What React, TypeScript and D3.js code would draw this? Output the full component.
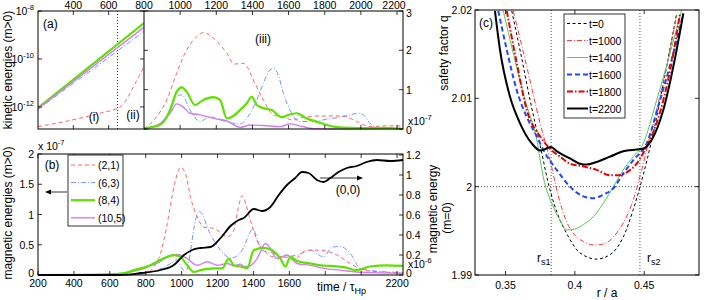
import React from 'react';
import * as d3 from 'd3';

type Pt = [number, number];

// (a) kinetic energies of the m>0 modes, log axis, t = 200..800
const kinLog21: Pt[] = [[200, 1.5e-13], [438, 3.4e-13], [551, 5.5e-13], [664, 1.0e-12], [700, 2.0e-12], [721, 3.7e-12], [760, 1.3e-11], [800, 4.8e-11]];
const kinLog63: Pt[] = [[200, 7.9e-13], [800, 1.4e-9]];
const kinLog84: Pt[] = [[200, 9.1e-13], [800, 3.1e-9]];
const kinLog105: Pt[] = [[200, 8.5e-13], [800, 2.1e-9]];

// (a)(iii) kinetic energies, linear axis, units of 1e-7
const kin21: Pt[] = [[800, 0], [870, 0.31], [926, 0.74], [981, 1.42], [1036, 2.01], [1092, 2.35], [1128, 2.45], [1184, 2.31], [1258, 1.93], [1300, 1.65], [1350, 1.67], [1414, 1.16], [1460, 0.74], [1516, 0.36], [1571, 0.3], [1626, 0.23], [1682, 0.3], [1756, 0.33], [1829, 0.33], [1903, 0.33], [1977, 0.19], [2051, 0.06], [2143, 0.08], [2233, 0.08]];
const kin63: Pt[] = [[800, 0], [889, 0.14], [944, 0.48], [981, 0.82], [1009, 0.87], [1055, 0.48], [1110, 0.19], [1165, 0.31], [1221, 0.23], [1290, 0.15], [1331, 0.13], [1387, 0.4], [1424, 0.74], [1460, 1.16], [1497, 1.5], [1516, 1.54], [1543, 1.37], [1571, 0.91], [1608, 0.48], [1663, 0.19], [1737, 0.19], [1811, 0.25], [1885, 0.3], [1940, 0.36], [1986, 0.4], [2014, 0.36], [2051, 0.14], [2088, 0.04], [2233, 0.02]];
const kin84: Pt[] = [[800, 0.02], [889, 0.1], [944, 0.48], [981, 0.95], [1009, 1.06], [1036, 0.95], [1082, 0.61], [1128, 0.74], [1184, 0.81], [1221, 0.74], [1258, 0.27], [1294, 0.33], [1331, 0.48], [1368, 0.65], [1396, 0.82], [1424, 0.61], [1460, 0.53], [1507, 0.48], [1562, 0.3], [1599, 0.36], [1645, 0.4], [1700, 0.27], [1774, 0.16], [1848, 0.06], [1940, 0.03], [2051, 0.02], [2125, 0.03], [2233, 0]];
const kin105: Pt[] = [[800, 0], [889, 0.14], [944, 0.4], [981, 0.64], [1009, 0.59], [1055, 0.4], [1110, 0.36], [1184, 0.27], [1258, 0.21], [1300, 0.1], [1331, 0.04], [1387, 0.1], [1460, 0.09], [1553, 0.06], [1608, 0.13], [1663, 0.08], [1737, 0.01], [1829, 0], [2233, 0.01]];

// (b) magnetic energies, m>0 in 1e-7, m=0 in 1e-6
const mag21: Pt[] = [[200, 0], [600, 0.005], [700, 0.01], [760, 0.02], [809, 0.04], [850, 0.15], [883, 0.36], [920, 0.85], [957, 1.45], [994, 1.78], [1022, 1.67], [1050, 1.28], [1087, 0.96], [1124, 0.79], [1180, 0.77], [1225, 0.68], [1254, 0.63], [1290, 0.74], [1315, 1.1], [1337, 1.31], [1360, 1.15], [1383, 0.9], [1420, 0.57], [1457, 0.41], [1513, 0.3], [1569, 0.3], [1624, 0.25], [1698, 0.41], [1772, 0.41], [1865, 0.33], [1939, 0.19], [2013, 0.08], [2106, 0.05], [2233, 0.03]];
const mag63: Pt[] = [[200, 0], [700, 0.005], [800, 0.03], [865, 0.08], [939, 0.19], [975, 0.25], [1000, 0.12], [1022, 0.05], [1045, 0.3], [1070, 0.8], [1096, 1.05], [1120, 0.98], [1143, 0.79], [1180, 0.57], [1217, 0.41], [1272, 0.28], [1300, 0.3], [1346, 0.46], [1380, 0.7], [1398, 0.77], [1420, 0.6], [1448, 0.41], [1513, 0.36], [1569, 0.3], [1643, 0.33], [1717, 0.41], [1791, 0.3], [1837, 0.46], [1883, 0.47], [1939, 0.36], [1994, 0.11], [2068, 0.07], [2233, 0.04]];
const mag84: Pt[] = [[200, 0], [500, 0.003], [600, 0.01], [680, 0.03], [735, 0.08], [809, 0.14], [883, 0.25], [957, 0.33], [994, 0.3], [1031, 0.16], [1068, 0.05], [1106, 0.08], [1180, 0.11], [1226, 0.11], [1263, 0.27], [1291, 0.16], [1328, 0.14], [1365, 0.11], [1402, 0.41], [1457, 0.45], [1504, 0.41], [1550, 0.27], [1578, 0.14], [1606, 0.3], [1643, 0.23], [1717, 0.19], [1772, 0.16], [1828, 0.15], [1902, 0.13], [1976, 0.08], [2050, 0.14], [2143, 0.16], [2233, 0.15]];
const mag105: Pt[] = [[200, 0], [600, 0.01], [700, 0.04], [800, 0.12], [880, 0.22], [920, 0.3], [976, 0.34], [1031, 0.27], [1087, 0.16], [1143, 0.22], [1198, 0.16], [1254, 0.19], [1291, 0.15], [1328, 0.18], [1346, 0.14], [1380, 0.15], [1420, 0.27], [1467, 0.52], [1494, 0.44], [1531, 0.27], [1587, 0.33], [1643, 0.19], [1717, 0.16], [1791, 0.11], [1883, 0.08], [1976, 0.05], [2068, 0.04], [2233, 0.03]];
const mag00: Pt[] = [[200, 0], [650, 0], [700, 0.003], [772, 0.02], [883, 0.05], [957, 0.1], [1013, 0.2], [1059, 0.25], [1106, 0.27], [1161, 0.28], [1217, 0.37], [1272, 0.49], [1318, 0.55], [1346, 0.57], [1402, 0.66], [1448, 0.64], [1494, 0.68], [1541, 0.8], [1587, 0.9], [1633, 0.97], [1670, 1.03], [1707, 1.02], [1754, 0.95], [1791, 0.93], [1828, 0.97], [1874, 1.03], [1920, 1.07], [1976, 1.09], [2031, 1.13], [2087, 1.15], [2161, 1.14], [2233, 1.15]];

// (c) safety factor profiles q(r/a)
const q0: Pt[] = [[0.3545, 2.0199], [0.3612, 2.0149], [0.3677, 2.0098], [0.3749, 2.0047], [0.3821, 1.9996], [0.3878, 1.9968], [0.3941, 1.9947], [0.4037, 1.9925], [0.4157, 1.9918], [0.4253, 1.9923], [0.4349, 1.9943], [0.4421, 1.9974], [0.447, 2.0], [0.452, 2.003], [0.4578, 2.007], [0.4638, 2.0117], [0.4734, 2.0196]];
const q1000: Pt[] = [[0.3556, 2.0199], [0.3653, 2.0136], [0.3749, 2.0072], [0.3821, 2.003], [0.3878, 1.9991], [0.3936, 1.9962], [0.4001, 1.9945], [0.4061, 1.9938], [0.4133, 1.9934], [0.4205, 1.9935], [0.4277, 1.9943], [0.4349, 1.9959], [0.4421, 1.9985], [0.4482, 2.0019], [0.4535, 2.0053], [0.4592, 2.0089], [0.4662, 2.0136], [0.4734, 2.0194]];
const q1400: Pt[] = [[0.3484, 2.0199], [0.3556, 2.0151], [0.3641, 2.0098], [0.3725, 2.0053], [0.3772, 2.0011], [0.3845, 1.9977], [0.39, 1.996], [0.3943, 1.9951], [0.4001, 1.9952], [0.4061, 1.9957], [0.4133, 1.9966], [0.4205, 1.9981], [0.4277, 2.0], [0.4349, 2.0019], [0.4421, 2.0034], [0.4493, 2.0049], [0.459, 2.0098], [0.4686, 2.0151], [0.477, 2.02]];
const q1600: Pt[] = [[0.3448, 2.0199], [0.3509, 2.0155], [0.3581, 2.0109], [0.3653, 2.0079], [0.3725, 2.0057], [0.3785, 2.0038], [0.3869, 2.0019], [0.3965, 2.0], [0.4061, 1.9989], [0.4133, 1.9987], [0.4205, 1.9991], [0.4277, 1.9998], [0.4349, 2.0015], [0.4421, 2.003], [0.4518, 2.0049], [0.4614, 2.0098], [0.471, 2.0151], [0.4782, 2.0196]];
const q1800: Pt[] = [[0.3509, 2.0199], [0.3581, 2.014], [0.3653, 2.0087], [0.3749, 2.0057], [0.3821, 2.0043], [0.3893, 2.0034], [0.3965, 2.0026], [0.4061, 2.0023], [0.4157, 2.0019], [0.4253, 2.0013], [0.4325, 2.0013], [0.4398, 2.0019], [0.4446, 2.0026], [0.4493, 2.0038], [0.4542, 2.0053], [0.4638, 2.0098], [0.471, 2.0151], [0.4758, 2.0196]];
const q2200: Pt[] = [[0.3424, 2.0199], [0.346, 2.0155], [0.3532, 2.0102], [0.3604, 2.0072], [0.3689, 2.0049], [0.3749, 2.0041], [0.3792, 2.0043], [0.3828, 2.0045], [0.3871, 2.004], [0.3965, 2.0032], [0.4037, 2.0026], [0.4085, 2.0025], [0.4157, 2.0028], [0.4253, 2.0034], [0.4349, 2.004], [0.4446, 2.0042], [0.4493, 2.0043], [0.4554, 2.0053], [0.4638, 2.0087], [0.471, 2.0136], [0.4782, 2.0196]];

const tMark = 650;
const rs = [0.3829, 0.4469];

const topLogTicks = [400, 600, 800];
const topLinTicks = [1000, 1200, 1400, 1600, 1800, 2000, 2200];
const logTicks = [1e-12, 1e-10, 1e-8];
const kinTicks = [0, 1, 2, 3];
const timeTicks = [200, 400, 600, 800, 1000, 1200, 1400, 1600, 1800, 2000, 2200];
const timeLabels = [200, 400, 600, 800, 1000, 1200, 1400, 1600, 2200];
const magTicks = [0, 0.5, 1, 1.5, 2];
const mag0Ticks = [0, 0.2, 0.4, 0.6, 0.8, 1, 1.2];
const rTicks = [0.35, 0.4, 0.45];
const qTicks = [1.99, 2, 2.01, 2.02];

const modeNames = ['(2,1)', '(6,3)', '(8,4)', '(10,5)'];
const qNames = ['t=0', 't=1000', 't=1400', 't=1600', 't=1800', 't=2200'];

type Sty = { c: string; w: number; d?: string };
const modeSty: Sty[] = [
  { c: '#ff6464', w: 1, d: '4,3' },
  { c: '#7592ff', w: 1, d: '5,2,1,2' },
  { c: '#5fe000', w: 2.2 },
  { c: '#d07ef2', w: 1.4 },
];
const qSty: Sty[] = [
  { c: '#000', w: 1, d: '3,2.5' },
  { c: '#ff3a3a', w: 1, d: '5,2,1,2' },
  { c: '#55c855', w: 1 },
  { c: '#1f48ff', w: 2, d: '5,3' },
  { c: '#e80000', w: 2, d: '6,2,1.5,2' },
  { c: '#000', w: 2 },
];

const FONT = '"Liberation Sans", Arial, Helvetica, sans-serif';
const TL = 4;

export default function App() {
  const xA1 = d3.scaleLinear().domain([200, 800]).range([38, 144]);
  const yA1 = d3.scaleLog().domain([Math.pow(10, -12.92), 1e-8]).range([129, 11]);
  const xA2 = d3.scaleLinear().domain([800, 2233]).range([144, 403]);
  const yA2 = d3.scaleLinear().domain([0, 3]).range([129, 11]);
  const xB = d3.scaleLinear().domain([200, 2233]).range([38, 403]);
  const yB = d3.scaleLinear().domain([0, 2]).range([275, 154]);
  const yB0 = d3.scaleLinear().domain([0, 1.21]).range([275, 154]);
  const xC = d3.scaleLinear().domain([0.328, 0.4895]).range([475, 699]);
  const yC = d3.scaleLinear().domain([1.99, 2.02]).range([275, 10]);

  const mk = (xs: any, ys: any, curve: any = d3.curveMonotoneX) =>
    d3.line<Pt>().x(d => xs(d[0])).y(d => ys(d[1])).curve(curve);

  const lA2 = mk(xA2, yA2);
  const lB = mk(xB, yB);
  const lB0 = mk(xB, yB0);
  const lC = mk(xC, yC);

  const path = (d: string | null, s: Sty, clip: string, key: string) => (
    <path key={key} d={d || ''} fill="none" stroke={s.c} strokeWidth={s.w} strokeDasharray={s.d} clipPath={`url(#${clip})`} strokeLinejoin="round" />
  );

  const sup = (base: string, exp: string) => (
    <>
      {base}
      <tspan dy={-5} fontSize={7.5}>{exp}</tspan>
    </>
  );

  const tk = (x1: number, y1: number, x2: number, y2: number, k: string) => (
    <line key={k} x1={x1} y1={y1} x2={x2} y2={y2} stroke="#000" strokeWidth={0.8} />
  );

  const kinLog = [kinLog21, kinLog63, kinLog84, kinLog105];
  const kinLin = [kin21, kin63, kin84, kin105];
  const mag = [mag21, mag63, mag84, mag105];
  const qs = [q0, q1000, q1400, q1600, q1800, q2200];

  return (
    <svg width={708} height={300} style={{ position: 'absolute', left: 0, top: 0, background: '#fff' }} fontFamily={FONT} fontSize={10.5}>
      <defs>
        <clipPath id="cA1"><rect x={38} y={11} width={106} height={118} /></clipPath>
        <clipPath id="cA2"><rect x={144} y={11} width={259} height={119} /></clipPath>
        <clipPath id="cB"><rect x={38} y={154} width={365} height={122} /></clipPath>
        <clipPath id="cC"><rect x={475} y={10} width={224} height={265} /></clipPath>
      </defs>
      <rect width={708} height={300} fill="#fff" />

      {/* ---------- panel (a) ---------- */}
      <line x1={xA1(tMark)} x2={xA1(tMark)} y1={11} y2={129} stroke="#333" strokeWidth={1} strokeDasharray="1,2" />
      {kinLog.map((s, i) => path(mk(xA1, yA1, i === 0 ? d3.curveMonotoneX : d3.curveLinear)(s), modeSty[i], 'cA1', 'kl' + i))}
      {[0, 1, 3, 2].map(i => path(lA2(kinLin[i]), modeSty[i], 'cA2', 'kn' + i))}
      <rect x={38} y={11} width={365} height={118} fill="none" stroke="#000" strokeWidth={1} />
      <line x1={144} x2={144} y1={11} y2={129} stroke="#000" strokeWidth={1} />
      {topLogTicks.filter(v => v < 800).map(v => [tk(xA1(v), 11, xA1(v), 11 + TL, 'at' + v), tk(xA1(v), 129, xA1(v), 129 - TL, 'ab' + v)])}
      {topLinTicks.map(v => [tk(xA2(v), 11, xA2(v), 11 + TL, 'bt' + v), tk(xA2(v), 129, xA2(v), 129 - TL, 'bb' + v)])}
      {logTicks.map(v => [tk(38, yA1(v), 38 + TL, yA1(v), 'll' + v), tk(144, yA1(v), 144 - TL, yA1(v), 'lr' + v)])}
      {kinTicks.map(v => [tk(403, yA2(v), 403 - TL, yA2(v), 'kr' + v), tk(144, yA2(v), 144 + TL, yA2(v), 'kl' + v)])}
      {topLogTicks.map(v => (
        <text key={'tl' + v} x={xA1(v)} y={9} textAnchor="middle">{v}</text>
      ))}
      {topLinTicks.map(v => (
        <text key={'tr' + v} x={xA2(v) - (v === 2200 ? 3 : 0)} y={9} textAnchor="middle">{v}</text>
      ))}
      {logTicks.map(v => (
        <text key={'lg' + v} x={34} y={yA1(v) + 4} textAnchor="end">{sup('10', String(Math.round(Math.log10(v))))}</text>
      ))}
      {kinTicks.map(v => (
        <text key={'kt' + v} x={406} y={yA2(v) + (v === 3 ? 6 : v === 0 ? 5 : 4)}>{v}</text>
      ))}
      <text x={408} y={125}>x{sup('10', '-7')}</text>
      <text x={43} y={28} fontSize={12}>(a)</text>
      <text x={94} y={121} fontSize={12} textAnchor="middle">(i)</text>
      <text x={133} y={119} fontSize={12} textAnchor="middle">(ii)</text>
      <text x={263} y={43} fontSize={12} textAnchor="middle">(iii)</text>
      <text transform="translate(12,70) rotate(-90)" textAnchor="middle" fontSize={12}>kinetic energies (m&gt;0)</text>

      {/* ---------- panel (b) ---------- */}
      {[1, 0, 3, 2].map(i => path(lB(mag[i]), modeSty[i], 'cB', 'mg' + i))}
      {path(lB0(mag00), { c: '#000', w: 1.8 }, 'cB', 'mg00')}
      <rect x={38} y={154} width={365} height={121} fill="none" stroke="#000" strokeWidth={1} />
      {timeTicks.map(v => [tk(xB(v), 275, xB(v), 275 - TL, 'xb' + v), tk(xB(v), 154, xB(v), 154 + TL, 'xt' + v)])}
      {magTicks.map(v => tk(38, yB(v), 38 + TL, yB(v), 'ym' + v))}
      {mag0Ticks.map(v => tk(403, yB0(v), 403 - TL, yB0(v), 'y0' + v))}
      {timeLabels.map(v => (
        <text key={'tx' + v} x={xB(v)} y={287} textAnchor="middle">{v}</text>
      ))}
      {magTicks.map(v => (
        <text key={'my' + v} x={34} y={yB(v) + (v === 0 ? 2 : 4)} textAnchor="end">{v}</text>
      ))}
      {mag0Ticks.map(v => (
        <text key={'m0' + v} x={406} y={yB0(v) + (v === 0 ? 2 : 4)}>{v}</text>
      ))}
      <text x={38} y={150}>x {sup('10', '-7')}</text>
      <text x={408} y={268}>x{sup('10', '-6')}</text>
      <text x={52} y={169} fontSize={12} textAnchor="middle">(b)</text>
      <text x={317} y={291} fontSize={12}>time / τ<tspan dy={3} fontSize={9}>Hp</tspan></text>
      <text transform="translate(12,213) rotate(-90)" textAnchor="middle" fontSize={12}>magnetic energies (m&gt;0)</text>
      <text transform="translate(437,209) rotate(-90)" textAnchor="middle" fontSize={12}>magnetic energy</text>
      <text transform="translate(451,218) rotate(-90)" textAnchor="middle" fontSize={12}>(m=0)</text>

      {/* legend (b) */}
      <rect x={68} y={155} width={55} height={71} fill="#fff" stroke="#000" strokeWidth={0.8} />
      {modeNames.map((n, i) => {
        const y = 165 + i * 17.6;
        const s = modeSty[i];
        return (
          <g key={'lg' + n}>
            <line x1={71} x2={95} y1={y} y2={y} stroke={s.c} strokeWidth={s.w} strokeDasharray={s.d} />
            <text x={98} y={y + 4}>{n}</text>
          </g>
        );
      })}
      <line x1={67} x2={50} y1={192} y2={192} stroke="#000" strokeWidth={0.8} />
      <path d="M45,192 L51,189.5 L51,194.5 Z" fill="#000" />
      <line x1={320} x2={358} y1={178} y2={178} stroke="#000" strokeWidth={0.8} />
      <path d="M363,178 L357,175.5 L357,180.5 Z" fill="#000" />
      <text x={348} y={194} fontSize={12} textAnchor="middle">(0,0)</text>

      {/* ---------- panel (c) ---------- */}
      {rs.map(r => (
        <line key={'rs' + r} x1={xC(r)} x2={xC(r)} y1={10} y2={275} stroke="#555" strokeWidth={1} strokeDasharray="1,2" />
      ))}
      <line x1={475} x2={699} y1={yC(2)} y2={yC(2)} stroke="#555" strokeWidth={1} strokeDasharray="1,2" />
      {qs.map((s, i) => path(lC(s), qSty[i], 'cC', 'q' + i))}
      <rect x={475} y={10} width={224} height={265} fill="none" stroke="#000" strokeWidth={1} />
      {rTicks.map(v => [tk(xC(v), 275, xC(v), 275 - TL, 'rb' + v), tk(xC(v), 10, xC(v), 10 + TL, 'rt' + v)])}
      {qTicks.map(v => [tk(475, yC(v), 475 + TL, yC(v), 'ql' + v), tk(699, yC(v), 699 - TL, yC(v), 'qr' + v)])}
      {rTicks.map(v => (
        <text key={'rx' + v} x={xC(v)} y={289} textAnchor="middle">{v}</text>
      ))}
      {qTicks.map(v => (
        <text key={'qy' + v} x={472} y={yC(v) + 4} textAnchor="end">{v}</text>
      ))}
      <text x={607} y={297} fontSize={12} textAnchor="middle">r / a</text>
      <text transform="translate(448,53) rotate(-90)" textAnchor="middle" fontSize={12}>safety factor q</text>
      <text x={479} y={27} fontSize={12}>(c)</text>
      <text x={537} y={262} fontSize={12}>r<tspan dy={3} fontSize={9}>s1</tspan></text>
      <text x={647} y={262} fontSize={12}>r<tspan dy={3} fontSize={9}>s2</tspan></text>

      {/* legend (c) */}
      <rect x={564} y={14} width={61} height={104} fill="#fff" stroke="#000" strokeWidth={0.8} />
      {qNames.map((n, i) => {
        const y = 23.5 + i * 17;
        const s = qSty[i];
        return (
          <g key={'lq' + n}>
            <line x1={567} x2={588} y1={y} y2={y} stroke={s.c} strokeWidth={s.w} strokeDasharray={s.d} />
            <text x={589} y={y + 4}>{n}</text>
          </g>
        );
      })}
    </svg>
  );
}
